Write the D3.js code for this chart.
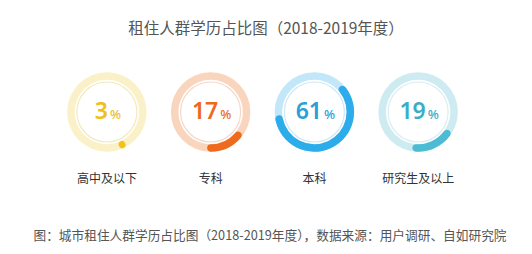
<!DOCTYPE html>
<html>
<head>
<meta charset="utf-8">
<script src="https://cdn.jsdelivr.net/npm/d3@7"></script>
<style>
  body { margin: 0; background: #fff; }
  text { font-family: "Noto Sans CJK SC", "Noto Sans", sans-serif; }
</style>
</head>
<body>
<div id="chart"></div>
<script>
const categories = ["高中及以下", "专科", "本科", "研究生及以上"]
const shares = [3, 17, 61, 19]
const trackColors = ["#fbf1c8", "#f9d5bd", "#c2e7f8", "#cfebf2"]
const arcColors = ["#f3c21a", "#ee6b1d", "#2cacea", "#4cbcd4"]
const innerColors = ["#f1ebbd", "#f3d9cb", "#cfe9f5", "#d9eef3"]
const textColors = ["#efc01c", "#ec6a1c", "#2a9fd9", "#3badc6"]
const titleText = "租住人群学历占比图（2018-2019年度）"
const sourceText = "图：城市租住人群学历占比图（2018-2019年度），数据来源：用户调研、自如研究院"

const svgWidth = 532
const svgHeight = 254
let svg = d3
  .select("#chart")
  .append("svg")
  .attr("width", svgWidth)
  .attr("height", svgHeight)

let xScale = d3
  .scaleBand()
  .domain(categories)
  .range([55, 470])

let angleScale = d3
  .scaleLinear()
  .domain([0, 100])
  .range([0, 2 * Math.PI])

const cy = 112
const ringR = 36
const ringW = 7.5
// progress arcs sit centred a little right of the bottom
const midAngle = 155 * Math.PI / 180

let trackArc = d3.arc()
  .innerRadius(ringR - ringW / 2)
  .outerRadius(ringR + ringW / 2)
  .startAngle(0)
  .endAngle(2 * Math.PI)

let valueArc = d3.arc()
  .innerRadius(ringR - ringW / 2)
  .outerRadius(ringR + ringW / 2)
  .cornerRadius(ringW / 2)
  .startAngle(d => midAngle - angleScale(d) / 2)
  .endAngle(d => midAngle + angleScale(d) / 2)

svg.append("text")
  .attr("x", 266)
  .attr("y", 27)
  .attr("text-anchor", "middle")
  .attr("dominant-baseline", "central")
  .style("font-size", "15.5px")
  .style("fill", "#555")
  .text(titleText)

let rings = svg
  .selectAll(".ring")
  .data(categories)
  .enter()
  .append("g")
  .attr("class", "ring")
  .attr("transform", d => `translate(${xScale(d) + xScale.bandwidth() / 2}, ${cy})`)

rings.append("path")
  .attr("d", trackArc())
  .attr("fill", (d, i) => trackColors[i])

rings.append("circle")
  .attr("r", 30)
  .attr("fill", "none")
  .attr("stroke", (d, i) => innerColors[i])
  .attr("stroke-width", 1.2)

rings.append("path")
  .attr("d", (d, i) => valueArc(shares[i]))
  .attr("fill", (d, i) => arcColors[i])

let pct = rings.append("text")
  .attr("x", 1)
  .attr("y", 6.5)
  .attr("text-anchor", "middle")
  .style("fill", (d, i) => textColors[i])
  .style("font-family", "'Noto Sans', sans-serif")
  .style("font-weight", 600)

pct.append("tspan")
  .style("font-size", "23px")
  .text((d, i) => shares[i])

pct.append("tspan")
  .attr("dx", 2)
  .style("font-size", "13px")
  .style("font-weight", 500)
  .text("%")

rings.append("text")
  .attr("y", 65)
  .attr("text-anchor", "middle")
  .attr("dominant-baseline", "central")
  .style("font-size", "12px")
  .style("fill", "#333")
  .text(d => d)

svg.append("text")
  .attr("x", 270)
  .attr("y", 234)
  .attr("text-anchor", "middle")
  .attr("dominant-baseline", "central")
  .style("font-size", "12.7px")
  .style("fill", "#555")
  .text(sourceText)
</script>
</body>
</html>
